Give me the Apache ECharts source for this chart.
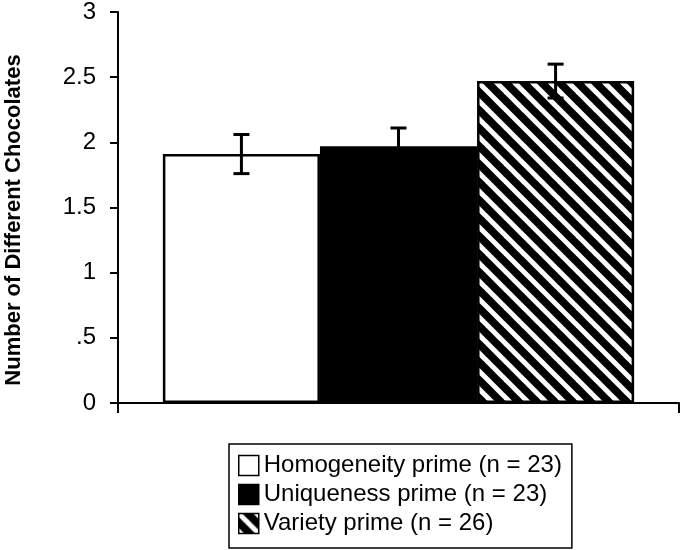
<!DOCTYPE html>
<html>
<head>
<meta charset="utf-8">
<script src="https://cdn.jsdelivr.net/npm/echarts@6/dist/echarts.min.js"></script>
<style>html,body{margin:0;padding:0;background:#fff;}#chart{width:680px;height:550px;}</style>
</head>
<body>
<div id="chart"></div>
<script>
var groups = ['Homogeneity prime (n = 23)', 'Uniqueness prime (n = 23)', 'Variety prime (n = 26)'];
var means = [1.91, 1.97, 2.47];
var errors = [0.15, 0.14, 0.13];
var yTickLabels = ['0', '.5', '1', '1.5', '2', '2.5', '3'];
var yTitle = 'Number of Different Chocolates';

function hatch() {
  var s = 18;
  var c = document.createElement('canvas');
  c.width = s; c.height = s;
  var g = c.getContext('2d');
  g.fillStyle = '#000';
  g.fillRect(0, 0, s, s);
  g.strokeStyle = '#fff';
  g.lineWidth = 5;
  [-s, 0, s].forEach(function (o) {
    g.beginPath();
    g.moveTo(o - 2, -2);
    g.lineTo(o + s + 2, s + 2);
    g.stroke();
  });
  return c;
}

var fills = ['#ffffff', '#000000', { image: hatch(), repeat: 'repeat' }];
var BARW = 0.28;

var chart = echarts.init(document.getElementById('chart'));
var series = groups.map(function (name, i) {
  return {
    name: name,
    type: 'bar',
    data: [means[i]],
    barWidth: (BARW * 100) + '%',
    barGap: '0%',
    itemStyle: { color: fills[i], borderColor: '#000', borderWidth: 2.5 },
    emphasis: { disabled: true },
    z: 2
  };
});
series.push({
  type: 'custom',
  name: 'err',
  z: 5,
  data: means.map(function (m, i) { return [0, m, errors[i], i]; }),
  encode: { x: 0, y: 1 },
  renderItem: function (params, api) {
    var m = api.value(1), e = api.value(2), i = api.value(3);
    var bw = api.size([1, 0])[0] * BARW;
    var top = api.coord([0, m + e]);
    var bot = api.coord([0, m - e]);
    var x = top[0] + (i - 1) * bw;
    var cw = 8;
    var st = { stroke: '#000', lineWidth: 3 };
    return {
      type: 'group',
      children: [
        { type: 'line', shape: { x1: x, y1: top[1], x2: x, y2: bot[1] }, style: st },
        { type: 'line', shape: { x1: x - cw, y1: top[1], x2: x + cw, y2: top[1] }, style: st },
        { type: 'line', shape: { x1: x - cw, y1: bot[1], x2: x + cw, y2: bot[1] }, style: st }
      ]
    };
  }
});

chart.setOption({
  animation: false,
  textStyle: { fontFamily: 'Liberation Sans, Arial, sans-serif' },
  grid: { left: 118, right: 1, top: 7, bottom: 147, containLabel: false },
  xAxis: {
    type: 'category',
    data: [''],
    boundaryGap: true,
    axisLine: { lineStyle: { color: '#000', width: 2 } },
    axisTick: { show: true, length: 10, lineStyle: { color: '#000', width: 2 } },
    axisLabel: { show: false },
    splitLine: { show: false }
  },
  yAxis: {
    type: 'value',
    min: 0, max: 3, interval: 0.5,
    axisLine: { show: true, lineStyle: { color: '#000', width: 2 } },
    axisTick: { show: true, length: 8, lineStyle: { color: '#000', width: 2 } },
    axisLabel: {
      color: '#000', fontSize: 24, margin: 22,
      fontFamily: 'Liberation Sans, Arial, sans-serif',
      formatter: function (v) { return yTickLabels[Math.round(v * 2)]; }
    },
    splitLine: { show: false }
  },
  legend: {
    data: groups,
    orient: 'vertical',
    left: 229, top: 444,
    padding: [9, 10, 12, 9],
    itemWidth: 20, itemHeight: 20, itemGap: 4,
    borderColor: '#000', borderWidth: 1.5,
    icon: 'rect',
    selectedMode: false,
    itemStyle: { borderColor: '#000', borderWidth: 1.5 },
    textStyle: { color: '#000', fontSize: 24, lineHeight: 25, fontFamily: 'Liberation Sans, Arial, sans-serif' }
  },
  graphic: [{
    type: 'text',
    x: 14, y: 220,
    rotation: Math.PI / 2,
    style: {
      text: yTitle,
      fill: '#000',
      font: 'bold 22px Liberation Sans, Arial, sans-serif',
      textAlign: 'center',
      textVerticalAlign: 'middle'
    }
  }],
  series: series
});
</script>
</body>
</html>
